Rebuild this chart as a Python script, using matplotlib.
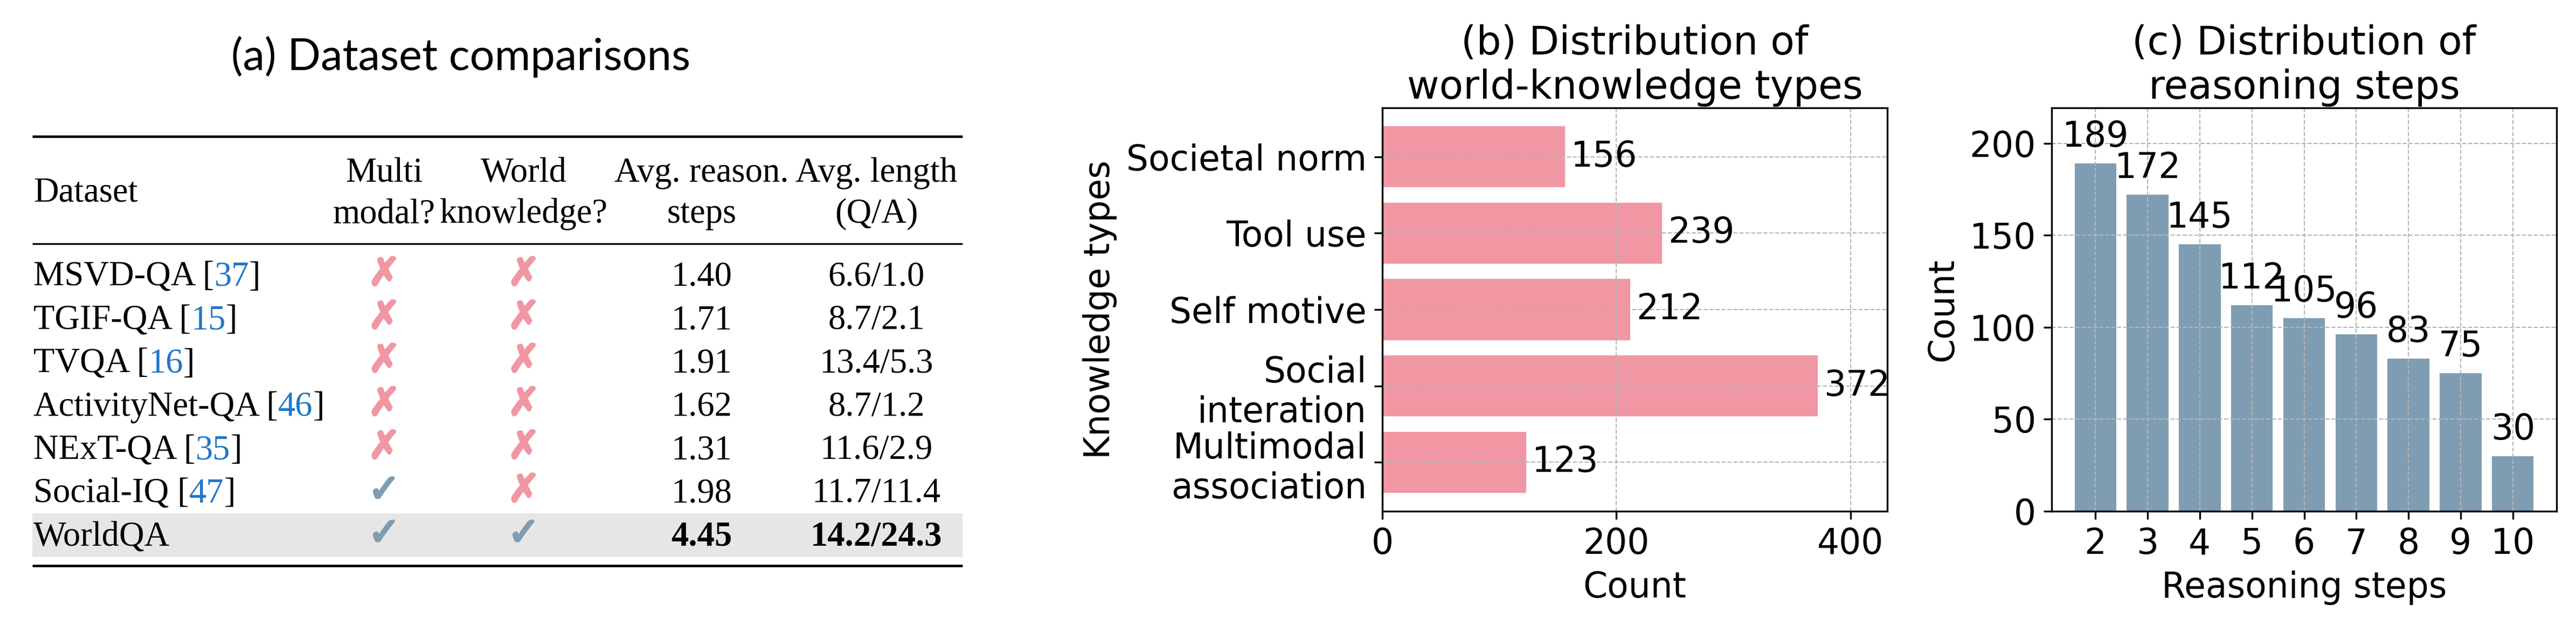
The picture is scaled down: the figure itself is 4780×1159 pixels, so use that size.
import matplotlib
matplotlib.use('Agg')
import matplotlib.pyplot as plt
import matplotlib.patheffects as pe
from matplotlib.patches import Rectangle

# ---- (a) table data ----
datasets = ['MSVD-QA', 'TGIF-QA', 'TVQA', 'ActivityNet-QA', 'NExT-QA', 'Social-IQ', 'WorldQA']
refs = ['37', '15', '16', '46', '35', '47', None]
multimodal = [False, False, False, False, False, True, True]
world_knowledge = [False, False, False, False, False, False, True]
reason_steps = ['1.40', '1.71', '1.91', '1.62', '1.31', '1.98', '4.45']
avg_length = ['6.6/1.0', '8.7/2.1', '13.4/5.3', '8.7/1.2', '11.6/2.9', '11.7/11.4', '14.2/24.3']
head_top = ['Multi', 'World', 'Avg. reason.', 'Avg. length']
head_bot = ['modal?', 'knowledge?', 'steps', '(Q/A)']

# ---- (b) world-knowledge types ----
knowledge_types = ['Societal norm', 'Tool use', 'Self motive', 'Social\ninteration', 'Multimodal\nassociation']
knowledge_counts = [156, 239, 212, 372, 123]

# ---- (c) reasoning steps ----
steps = [2, 3, 4, 5, 6, 7, 8, 9, 10]
step_counts = [189, 172, 145, 112, 105, 96, 83, 75, 30]

PINK = '#f196a3'
BLUE = '#7f9db2'
CITE = '#1f77c8'

W, H = 4780, 1159
fig = plt.figure(figsize=(W / 300, H / 300), dpi=300)

# table is laid out in pixel coordinates on a full-figure axes
ax_t = fig.add_axes([0, 0, 1, 1])
ax_t.set_xlim(0, W)
ax_t.set_ylim(H, 0)
ax_t.axis('off')

serif = dict(family='Liberation Serif', fontsize=15.5)
ax_t.text(855, 130, '(a) Dataset comparisons', family='Lato', fontsize=19.5,
          ha='center', va='baseline')

x0, x1 = 60, 1786
ax_t.plot([x0, x1], [253, 253], color='k', lw=1.1, solid_capstyle='butt')
ax_t.plot([x0, x1], [452, 452], color='k', lw=0.8, solid_capstyle='butt')
ax_t.plot([x0, x1], [1049, 1049], color='k', lw=1.1, solid_capstyle='butt')
ax_t.add_patch(Rectangle((x0, 952), x1 - x0, 81, color='#e6e6e6', lw=0, zorder=0))

cols = [713, 972, 1302, 1626]
ax_t.text(62, 373, 'Dataset', ha='left', va='baseline', **serif)
for cx, t1, t2 in zip(cols, head_top, head_bot):
    ax_t.text(cx, 337, t1, ha='center', va='baseline', **serif)
    ax_t.text(cx, 413, t2, ha='center', va='baseline', **serif)

for i, name in enumerate(datasets):
    y = 530 + i * 80.3
    if refs[i]:
        t = ax_t.text(62, y, name + ' [', ha='left', va='baseline', **serif)
        t = ax_t.annotate(refs[i], xy=(1, 0), xycoords=t, ha='left', va='bottom',
                          color=CITE, **serif)
        ax_t.annotate(']', xy=(1, 0), xycoords=t, ha='left', va='bottom', **serif)
    else:
        ax_t.text(62, y, name, ha='left', va='baseline', **serif)
    for cx, flag in zip(cols[:2], [multimodal[i], world_knowledge[i]]):
        c = BLUE if flag else PINK
        ax_t.text(cx, y - 21, '\u2713' if flag else '\u2717', family='DejaVu Sans',
                  fontsize=17, color=c, ha='center', va='center',
                  path_effects=[pe.withStroke(linewidth=1.0, foreground=c)])
    bold = 'bold' if name == 'WorldQA' else 'normal'
    ax_t.text(cols[2], y, reason_steps[i], ha='center', va='baseline', weight=bold, **serif)
    ax_t.text(cols[3], y, avg_length[i], ha='center', va='baseline', weight=bold, **serif)

FS = 15.5
TFS = 17.5
grid_kw = dict(linestyle='--', linewidth=0.5, color='#b5b5b5')

# (b)
ax_b = fig.add_axes([2565 / W, 1 - 948 / H, 937 / W, 748 / H])
ax_b.barh(knowledge_types[::-1], knowledge_counts[::-1], height=0.8, color=PINK)
ax_b.set_xlim(0, max(knowledge_counts) * 1.16)
for yi, v in enumerate(knowledge_counts[::-1]):
    ax_b.text(v + 5, yi, str(v), va='center', ha='left', fontsize=FS)
ax_b.grid(True, **grid_kw)
ax_b.set_title('(b) Distribution of\nworld-knowledge types', fontsize=TFS, pad=4)
ax_b.set_xlabel('Count', fontsize=FS)
ax_b.set_ylabel('Knowledge types', fontsize=FS)
ax_b.tick_params(labelsize=FS)

# (c)
ax_c = fig.add_axes([3807 / W, 1 - 948 / H, 937 / W, 748 / H])
ax_c.bar(steps, step_counts, width=0.8, color=BLUE)
ax_c.set_ylim(0, max(step_counts) * 1.16)
ax_c.set_xticks(steps)
for s, v in zip(steps, step_counts):
    ax_c.text(s, v + 5, str(v), ha='center', va='bottom', fontsize=FS)
ax_c.grid(True, **grid_kw)
ax_c.set_title('(c) Distribution of\nreasoning steps', fontsize=TFS, pad=4)
ax_c.set_xlabel('Reasoning steps', fontsize=FS)
ax_c.set_ylabel('Count', fontsize=FS)
ax_c.tick_params(labelsize=FS)

fig.savefig('out.png', dpi=300)
